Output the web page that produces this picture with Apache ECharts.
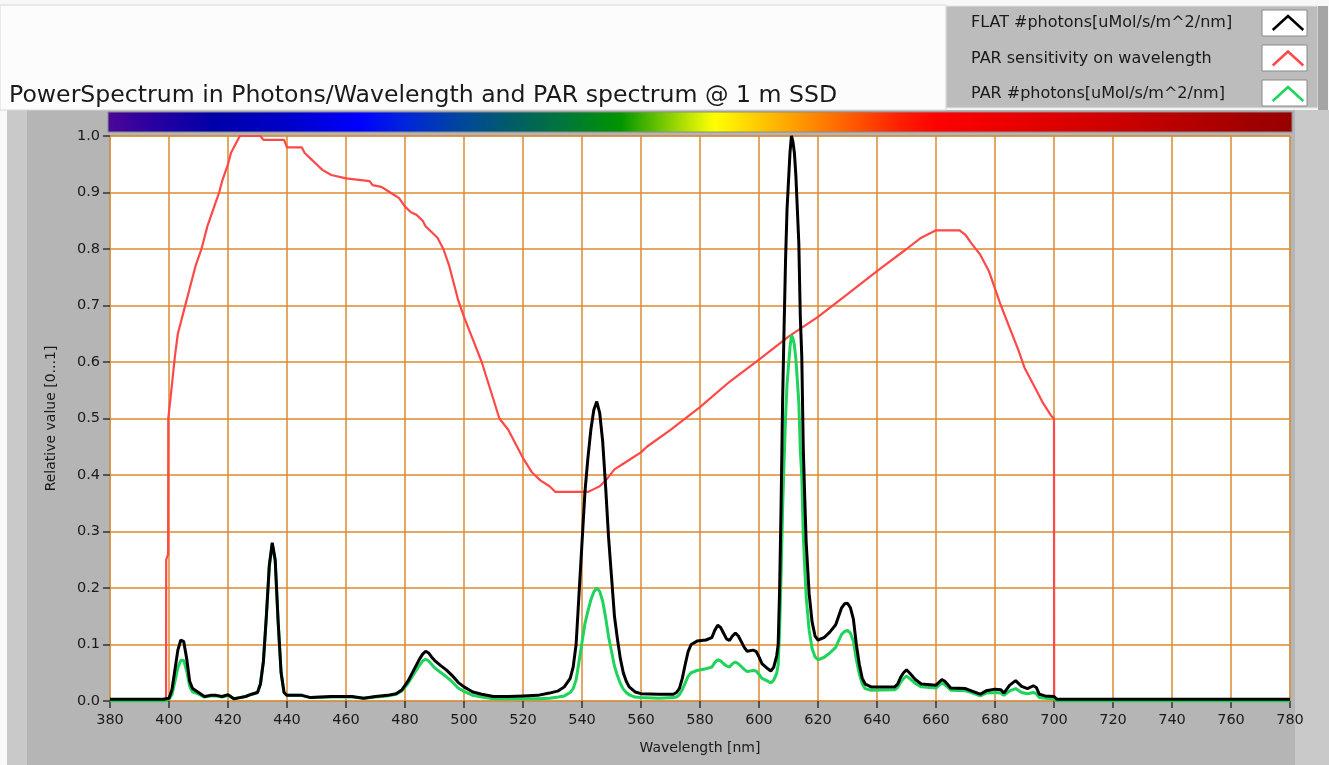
<!DOCTYPE html>
<html><head><meta charset="utf-8">
<script src="https://cdn.jsdelivr.net/npm/echarts@6/dist/echarts.min.js"></script>
<style>html,body{margin:0;padding:0;background:#f8f8f8}#c{width:1329px;height:765px}</style>
</head><body><div id="c"></div>
<script>
// ---------- data ----------
const xTicks = [380,400,420,440,460,480,500,520,540,560,580,600,620,640,660,680,700,720,740,760,780];
const seriesNames = ['FLAT #photons[uMol/s/m^2/nm]','PAR sensitivity on wavelength','PAR #photons[uMol/s/m^2/nm]'];

const flatWl = [380,398,399,400,401,402,403,404,405,406,407,408,410,412,414,416,418,420,422,424,426,428,430,431,432,433,434,435,436,437,438,439,440,445,448,455,462,466,470,474,477,479,481,483,485,486,487,488,489,490,492,494,496,498,500,503,506,510,515,520,525,529,532,534,536,537,538,539,540,541,542,543,544,545,546,547,548,549,550,551,552,553,554,555,556,558,560,566,571,572,573,574,575,576,577,579,582,584,585,586,587,588,589,590,591,592,593,594,595,596,598,599,600,601,603,604,605,606,606.5,607,607.5,608,608.5,609,609.5,610,610.5,611,611.5,612,612.5,613,613.5,614,614.5,615,615.5,616,617,618,619,620,622,624,626,627,628,629,630,631,632,633,634,635,636,638,646,647,648,649,650,651,653,655,660,662,663,665,670,672,675,677,680,682,683,685,687,689,691,693,694,695,697,700,701,780];
const flatVals = [0.003,0.003,0.004,0.005,0.02,0.055,0.09,0.108,0.105,0.075,0.035,0.022,0.015,0.008,0.01,0.01,0.008,0.011,0.004,0.006,0.008,0.012,0.015,0.03,0.07,0.15,0.24,0.28,0.25,0.14,0.05,0.015,0.01,0.01,0.006,0.008,0.008,0.005,0.008,0.01,0.013,0.02,0.035,0.055,0.075,0.083,0.088,0.085,0.078,0.072,0.063,0.055,0.045,0.033,0.025,0.016,0.012,0.008,0.008,0.009,0.01,0.014,0.018,0.025,0.04,0.06,0.1,0.19,0.28,0.37,0.43,0.48,0.515,0.53,0.51,0.46,0.38,0.29,0.22,0.15,0.11,0.075,0.05,0.035,0.025,0.016,0.013,0.012,0.012,0.015,0.022,0.04,0.065,0.088,0.1,0.106,0.108,0.112,0.125,0.134,0.13,0.12,0.11,0.107,0.115,0.12,0.115,0.105,0.095,0.088,0.09,0.088,0.078,0.066,0.057,0.053,0.06,0.08,0.1,0.2,0.35,0.53,0.66,0.78,0.87,0.92,0.97,1.0,0.99,0.97,0.93,0.87,0.81,0.68,0.61,0.45,0.36,0.28,0.19,0.14,0.115,0.108,0.112,0.122,0.135,0.15,0.165,0.172,0.173,0.165,0.145,0.1,0.065,0.04,0.03,0.025,0.025,0.03,0.042,0.05,0.055,0.05,0.038,0.03,0.028,0.038,0.035,0.023,0.022,0.018,0.012,0.018,0.021,0.02,0.014,0.028,0.036,0.026,0.022,0.027,0.024,0.012,0.009,0.008,0.003,0.003];
const parPhotVals = [0,0,0.001,0.003,0.011,0.034,0.059,0.072,0.072,0.053,0.026,0.016,0.012,0.007,0.009,0.009,0.007,0.01,0.004,0.006,0.008,0.012,0.015,0.03,0.07,0.149,0.238,0.278,0.248,0.139,0.05,0.015,0.01,0.01,0.006,0.007,0.007,0.005,0.007,0.009,0.012,0.018,0.031,0.048,0.064,0.071,0.074,0.071,0.065,0.059,0.051,0.043,0.034,0.023,0.017,0.01,0.007,0.004,0.004,0.004,0.004,0.005,0.007,0.009,0.015,0.022,0.037,0.07,0.104,0.137,0.159,0.179,0.193,0.2,0.194,0.177,0.148,0.114,0.088,0.062,0.045,0.031,0.021,0.015,0.011,0.007,0.006,0.005,0.006,0.007,0.011,0.02,0.032,0.044,0.05,0.054,0.057,0.06,0.068,0.073,0.071,0.066,0.062,0.06,0.066,0.069,0.066,0.061,0.056,0.052,0.054,0.053,0.047,0.04,0.035,0.032,0.037,0.049,0.064,0.128,0.224,0.34,0.424,0.502,0.56,0.593,0.626,0.647,0.642,0.63,0.605,0.567,0.528,0.444,0.399,0.295,0.236,0.184,0.125,0.093,0.078,0.073,0.077,0.085,0.095,0.107,0.118,0.123,0.125,0.12,0.106,0.073,0.048,0.03,0.022,0.019,0.02,0.024,0.033,0.04,0.044,0.04,0.031,0.025,0.023,0.032,0.029,0.019,0.018,0.015,0.009,0.014,0.015,0.014,0.01,0.018,0.022,0.015,0.013,0.015,0.013,0.006,0.005,0.004,0,0];

const parSensWl = [380,399,399.05,399.7,399.75,401,402,403,404,405,406,407,408,409,410,411,412,413,414,415,416,417,418,419,420,421,422,423,424,431,432,439,440,445,446,448,450,452,455,460,468,469,472,475,478,480,482,484,486,487,489,491,493,495,497,498,500,503,506,509,512,515,518,520,523,526,529,531,542,544,546,548,551,554,557,560,562,570,580,590,600,610,620,630,641,650,655,660,668,670,672,675,678,680,682,685,688,690,693,696,699,700,700.05,780];
const parSensVals = [0,0,0.25,0.26,0.5,0.56,0.61,0.65,0.67,0.69,0.71,0.73,0.75,0.77,0.785,0.8,0.82,0.84,0.855,0.87,0.885,0.9,0.92,0.935,0.95,0.97,0.98,0.99,1.0,1.0,0.993,0.993,0.98,0.98,0.97,0.96,0.95,0.94,0.931,0.925,0.92,0.913,0.91,0.9,0.89,0.875,0.865,0.86,0.85,0.84,0.83,0.82,0.8,0.77,0.73,0.71,0.68,0.64,0.6,0.55,0.5,0.48,0.45,0.43,0.405,0.39,0.38,0.37,0.37,0.375,0.38,0.39,0.41,0.42,0.43,0.44,0.45,0.48,0.52,0.565,0.604,0.645,0.68,0.72,0.765,0.8,0.82,0.833,0.833,0.825,0.81,0.79,0.76,0.73,0.7,0.66,0.62,0.59,0.56,0.53,0.505,0.5,0,0];

// ---------- build ----------
const zip = (a,b) => a.map((x,i)=>[x,b[i]]);
const FONT = 'DejaVu Sans';
const chart = echarts.init(document.getElementById('c'), null, {renderer:'canvas'});

const chev = 'path://M0,12 L12,1 L24,12';
const legendColors = ['#000000','#ff4848','#1ed45a'];

chart.setOption({
  backgroundColor: '#f8f8f8',
  animation: false,
  title: {
    text: 'PowerSpectrum in Photons/Wavelength and PAR spectrum @ 1 m SSD',
    left: 4, top: 79,
    textStyle: {fontFamily: FONT, fontSize: 23.6, fontWeight: 'normal', color: '#1a1a1a'}
  },
  legend: {
    orient: 'vertical', left: 966, top: 8,
    align: 'right', itemWidth: 40, itemHeight: 14, itemGap: 15.5,
    formatter: n => '{a|' + n + '}',
    textStyle: {fontFamily: FONT, fontSize: 16, color: '#1a1a1a', lineHeight: 20,
      rich: {a: {fontFamily: FONT, fontSize: 16, color: '#1a1a1a', width: 292, align: 'left', lineHeight: 20}}},
    data: seriesNames.map((n,i)=>({
      name: n, icon: chev,
      itemStyle: {color: 'rgba(0,0,0,0)', borderColor: legendColors[i], borderWidth: 2.5}
    })),
    selectedMode: false
  },
  grid: {left: 110, top: 136, width: 1180, height: 565, show: true, backgroundColor: '#ffffff', borderColor: '#9a9a9a', borderWidth: 1},
  graphic: [
    {type:'rect', z:-10, silent:true, shape:{x:7,y:110,width:1322,height:655}, style:{fill:'#c9c9c9'}},
    {type:'rect', z:-9, silent:true, shape:{x:27,y:110,width:1268,height:655}, style:{fill:'#b5b5b5'}},
    {type:'rect', z:-9, silent:true, shape:{x:0,y:5,width:946,height:105}, style:{fill:'#fcfcfc', stroke:'#d8d8d8', lineWidth:1}},
    {type:'rect', z:-8, silent:true, shape:{x:946,y:6,width:372,height:102}, style:{fill:'#bcbcbc', stroke:'#e6e6e6', lineWidth:1}},
    {type:'rect', z:-8, silent:true, shape:{x:1318,y:6,width:10,height:104}, style:{fill:'#a5a5a5'}},
    {type:'rect', z:-7, silent:true, shape:{x:1262,y:10,width:45,height:26}, style:{fill:'#ffffff', stroke:'#8a8a8a', lineWidth:1}},
    {type:'rect', z:-7, silent:true, shape:{x:1262,y:45,width:45,height:26}, style:{fill:'#ffffff', stroke:'#8a8a8a', lineWidth:1}},
    {type:'rect', z:-7, silent:true, shape:{x:1262,y:80,width:45,height:26}, style:{fill:'#ffffff', stroke:'#8a8a8a', lineWidth:1}},
    {type:'rect', z:5, silent:true, shape:{x:108,y:112,width:1184,height:20},
      style:{stroke:'#8c8c8c', lineWidth:1, fill:{type:'linear', x:0,y:0,x2:1,y2:0, colorStops:[
        {offset:0,color:'#4b0896'},{offset:0.0375,color:'#2a00a0'},{offset:0.09,color:'#0000a8'},
        {offset:0.15,color:'#0000c8'},{offset:0.2125,color:'#0000ff'},{offset:0.25,color:'#0024dc'},
        {offset:0.3,color:'#00489a'},{offset:0.3475,color:'#006060'},{offset:0.3875,color:'#007838'},
        {offset:0.4325,color:'#009400'},{offset:0.4625,color:'#60c000'},{offset:0.4975,color:'#d4ee00'},
        {offset:0.5125,color:'#ffff00'},{offset:0.545,color:'#ffd000'},{offset:0.575,color:'#ffa500'},
        {offset:0.605,color:'#ff7a00'},{offset:0.635,color:'#ff5000'},{offset:0.6675,color:'#ff2000'},
        {offset:0.7,color:'#ff0000'},{offset:0.84,color:'#d00000'},{offset:0.9675,color:'#a00000'},
        {offset:1,color:'#980000'}]}}}
  ],
  xAxis: {
    type: 'value', min: 380, max: 780, interval: 20,
    name: 'Wavelength [nm]', nameLocation: 'middle', nameGap: 40,
    nameTextStyle: {fontFamily: FONT, fontSize: 14, color: '#1a1a1a'},
    axisLine: {show: false},
    axisTick: {show: true, length: 7, inside: false, lineStyle: {color: '#333', width: 1.5}},
    axisLabel: {fontFamily: FONT, fontSize: 14.5, color: '#1a1a1a', margin: 12,
      formatter: v => xTicks.includes(v) ? String(v) : ''},
    splitLine: {show: true, lineStyle: {color: '#dc8a30', width: 1.5}}
  },
  yAxis: {
    type: 'value', min: 0, max: 1, interval: 0.1,
    name: 'Relative value [0...1]', nameLocation: 'middle', nameGap: 52, nameRotate: 90,
    nameTextStyle: {fontFamily: FONT, fontSize: 14, color: '#1a1a1a'},
    axisLine: {show: false},
    axisTick: {show: true, length: 7, lineStyle: {color: '#333', width: 1.5}},
    axisLabel: {fontFamily: FONT, fontSize: 14.5, color: '#1a1a1a', margin: 10, formatter: v => v.toFixed(1)},
    splitLine: {show: true, lineStyle: {color: '#dc8a30', width: 1.5}}
  },
  series: [
    {name: seriesNames[1], type: 'line', data: zip(parSensWl, parSensVals), showSymbol: false, symbol: 'none',
     lineStyle: {color: '#ff4848', width: 2.2}, itemStyle: {color: '#ff4848'}, z: 2},
    {name: seriesNames[2], type: 'line', data: zip(flatWl, parPhotVals), showSymbol: false, symbol: 'none',
     lineStyle: {color: '#1ed45a', width: 3}, itemStyle: {color: '#1ed45a'}, z: 3},
    {name: seriesNames[0], type: 'line', data: zip(flatWl, flatVals), showSymbol: false, symbol: 'none',
     lineStyle: {color: '#000000', width: 3}, itemStyle: {color: '#000000'}, z: 4}
  ]
});
</script></body></html>
